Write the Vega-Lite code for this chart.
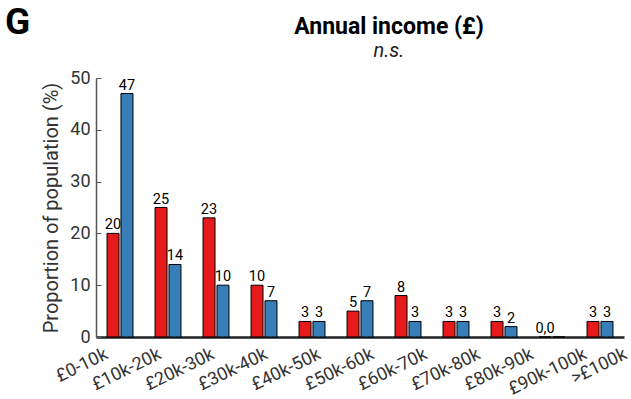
{
  "$schema": "https://vega.github.io/schema/vega-lite/v6.json",
  "padding": {"left": 5, "top": 4, "right": 5, "bottom": 5},
  "background": "white",
  "config": {
    "view": {"stroke": null},
    "font": "Roboto",
    "concat": {"spacing": 10}
  },
  "datasets": {
    "income": [
      {"income": "£0-10k", "group": "A", "value": 20, "label": "20"},
      {"income": "£0-10k", "group": "B", "value": 47, "label": "47"},
      {"income": "£10k-20k", "group": "A", "value": 25, "label": "25"},
      {"income": "£10k-20k", "group": "B", "value": 14, "label": "14"},
      {"income": "£20k-30k", "group": "A", "value": 23, "label": "23"},
      {"income": "£20k-30k", "group": "B", "value": 10, "label": "10"},
      {"income": "£30k-40k", "group": "A", "value": 10, "label": "10"},
      {"income": "£30k-40k", "group": "B", "value": 7, "label": "7"},
      {"income": "£40k-50k", "group": "A", "value": 3, "label": "3"},
      {"income": "£40k-50k", "group": "B", "value": 3, "label": "3"},
      {"income": "£50k-60k", "group": "A", "value": 5, "label": "5"},
      {"income": "£50k-60k", "group": "B", "value": 7, "label": "7"},
      {"income": "£60k-70k", "group": "A", "value": 8, "label": "8"},
      {"income": "£60k-70k", "group": "B", "value": 3, "label": "3"},
      {"income": "£70k-80k", "group": "A", "value": 3, "label": "3"},
      {"income": "£70k-80k", "group": "B", "value": 3, "label": "3"},
      {"income": "£80k-90k", "group": "A", "value": 3, "label": "3"},
      {"income": "£80k-90k", "group": "B", "value": 2, "label": "2"},
      {"income": "£90k-100k", "group": "A", "value": 0, "label": "0,0"},
      {"income": "£90k-100k", "group": "B", "value": 0, "label": ""},
      {"income": ">£100k", "group": "A", "value": 3, "label": "3"},
      {"income": ">£100k", "group": "B", "value": 3, "label": "3"}
    ],
    "empty": []
  },
  "hconcat": [
    {
      "title": {"text": "G", "anchor": "start", "fontSize": 37, "fontWeight": "bold", "font": "Roboto", "color": "black", "offset": 36},
      "width": 1,
      "height": 259,
      "data": {"name": "empty"},
      "mark": "point",
      "encoding": {}
    },
    {
      "title": {
        "text": "Annual income (£)",
        "subtitle": "n.s.",
        "anchor": "middle",
        "dx": 29,
        "fontSize": 23,
        "fontWeight": "bold",
        "color": "black",
        "subtitleFontSize": 20,
        "subtitleFontStyle": "italic",
        "subtitleColor": "#222",
        "subtitlePadding": 2,
        "offset": 8
      },
      "width": 528,
      "height": 259,
      "data": {"name": "income"},
      "encoding": {
        "x": {
          "field": "income",
          "type": "nominal",
          "sort": ["£0-10k", "£10k-20k", "£20k-30k", "£30k-40k", "£40k-50k", "£50k-60k", "£60k-70k", "£70k-80k", "£80k-90k", "£90k-100k", ">£100k"],
          "scale": {"paddingInner": 0, "paddingOuter": 0},
          "axis": {
            "title": null,
            "ticks": false,
            "domainColor": "#222",
            "domainWidth": 2.5,
            "labelAngle": -26,
            "labelAlign": "right",
            "labelBaseline": "top",
            "labelFontSize": 18,
            "labelColor": "#333",
            "labelPadding": 8,
            "labelOffset": {"expr": "datum.index > 0.95 ? 22 : -17 + 52 * datum.index"}
          }
        },
        "xOffset": {"field": "group", "type": "nominal", "scale": {"paddingInner": 0.14, "paddingOuter": 0.79}},
        "y": {
          "field": "value",
          "type": "quantitative",
          "scale": {"domain": [0, 50], "nice": false},
          "axis": {
            "title": "Proportion of population (%)",
            "titleFontSize": 20,
            "titleFontWeight": "normal",
            "titleColor": "#333",
            "titlePadding": 8,
            "values": [0, 10, 20, 30, 40, 50],
            "grid": false,
            "domainColor": "#555",
            "domainWidth": 1.5,
            "tickColor": "#555",
            "tickSize": -5,
            "labelFontSize": 18,
            "labelColor": "#333",
            "labelPadding": 11
          }
        }
      },
      "layer": [
        {
          "mark": {"type": "bar", "stroke": "black", "strokeWidth": 1},
          "encoding": {
            "color": {"field": "group", "type": "nominal", "scale": {"domain": ["A", "B"], "range": ["#e41a1c", "#377eb8"]}, "legend": null}
          }
        },
        {
          "mark": {"type": "text", "baseline": "bottom", "dy": -1, "fontSize": 14.5, "color": "black"},
          "encoding": {"text": {"field": "label"}}
        }
      ]
    }
  ]
}
